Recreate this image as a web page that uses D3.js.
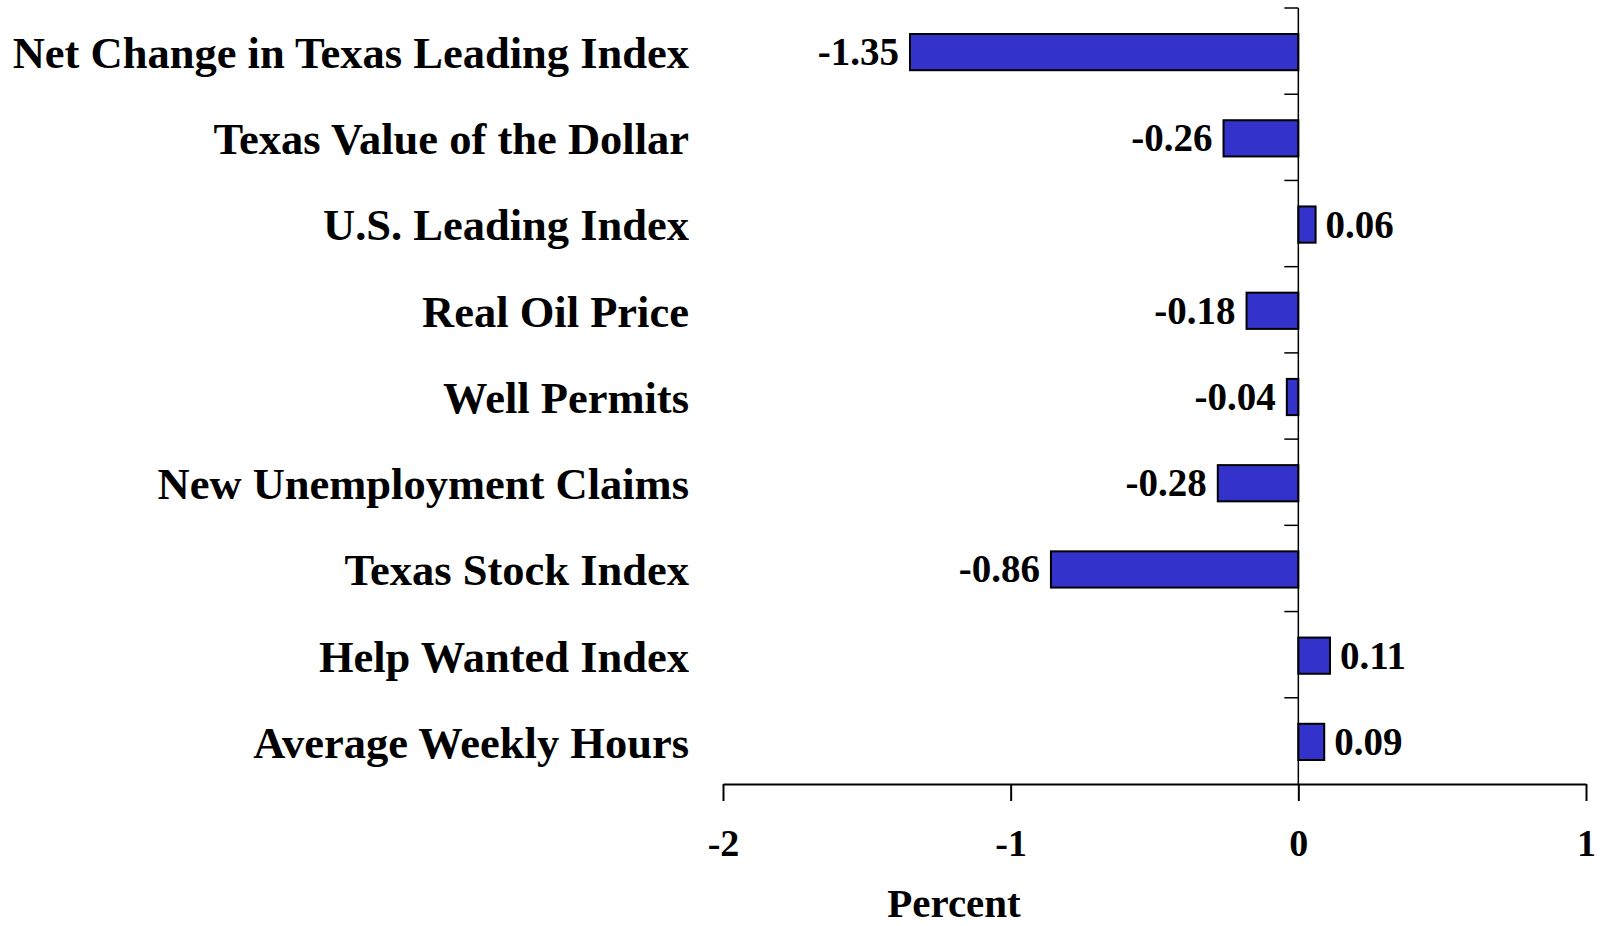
<!DOCTYPE html>
<html><head><meta charset="utf-8">
<script src="https://cdn.jsdelivr.net/npm/d3@7"></script>
<style>body{margin:0;background:#fff}svg{display:block}text{font-family:"Liberation Serif","Times New Roman",serif;font-weight:bold;fill:#000}</style>
</head><body><svg id="c" width="1601" height="926"></svg>
<script>
const categories = ["Net Change in Texas Leading Index","Texas Value of the Dollar","U.S. Leading Index","Real Oil Price","Well Permits","New Unemployment Claims","Texas Stock Index","Help Wanted Index","Average Weekly Hours"];
const values = [-1.35,-0.26,0.06,-0.18,-0.04,-0.28,-0.86,0.11,0.09];
const xTicks = [-2,-1,0,1];
const axisTitle = "Percent";

const svg = d3.select("#c");
const x = d3.scaleLinear().domain([-2,1]).range([723,1586]);
const y = d3.scaleBand().domain(categories).range([8,784]).paddingInner(0.58).paddingOuter(0.29);
const band = d3.scaleBand().domain(categories).range([8,784]);

// bars
svg.selectAll("rect.bar").data(values).join("rect")
  .attr("x",d=>x(Math.min(0,d))).attr("width",d=>Math.abs(x(d)-x(0)))
  .attr("y",(d,i)=>y(categories[i])+1).attr("height",y.bandwidth())
  .attr("fill","#3333CC").attr("stroke","#000").attr("stroke-width",2);

// zero line with ticks
const zl = svg.append("g");
zl.append("line").attr("x1",x(0)).attr("x2",x(0)).attr("y1",8).attr("y2",784).attr("stroke","#000").attr("stroke-width",1.5);
const bounds = categories.map(c=>band(c));
zl.selectAll("line.t").data(bounds).join("line").attr("class","t")
  .attr("x1",x(0)-14).attr("x2",x(0)).attr("y1",d=>d).attr("y2",d=>d).attr("stroke","#000").attr("stroke-width",1.5);

// x axis
const xa = svg.append("g").attr("transform","translate(0,784)")
  .call(d3.axisBottom(x).tickValues(xTicks).tickSize(17).tickSizeOuter(0).tickFormat(d3.format("d")));
xa.select(".domain").attr("stroke","#000").attr("stroke-width",2.2);
xa.selectAll(".tick line").attr("stroke","#000").attr("stroke-width",2);
xa.selectAll(".tick text").attr("y",72).attr("dy",0).style("font-size","38px").style("font-family","Liberation Serif").style("font-weight","bold").attr("fill","#000")
  .text(d=>d<0?"-"+Math.abs(d):d);

// category labels
svg.selectAll("text.cat").data(categories).join("text").attr("class","cat")
  .attr("x",689).attr("y",d=>band(d)+band.bandwidth()/2).attr("dy","0.38em")
  .attr("text-anchor","end").style("font-size","44.5px").text(d=>d);

// value labels
svg.selectAll("text.val").data(values).join("text").attr("class","val")
  .attr("x",d=>d<0?x(d)-11:x(d)+10).attr("y",(d,i)=>band(categories[i])+band.bandwidth()/2).attr("dy","0.36em")
  .attr("text-anchor",d=>d<0?"end":"start").style("font-size","39px").text(d=>d.toFixed(2));

svg.append("text").attr("x",954).attr("y",917).attr("text-anchor","middle").style("font-size","41px").text(axisTitle);
</script></body></html>
